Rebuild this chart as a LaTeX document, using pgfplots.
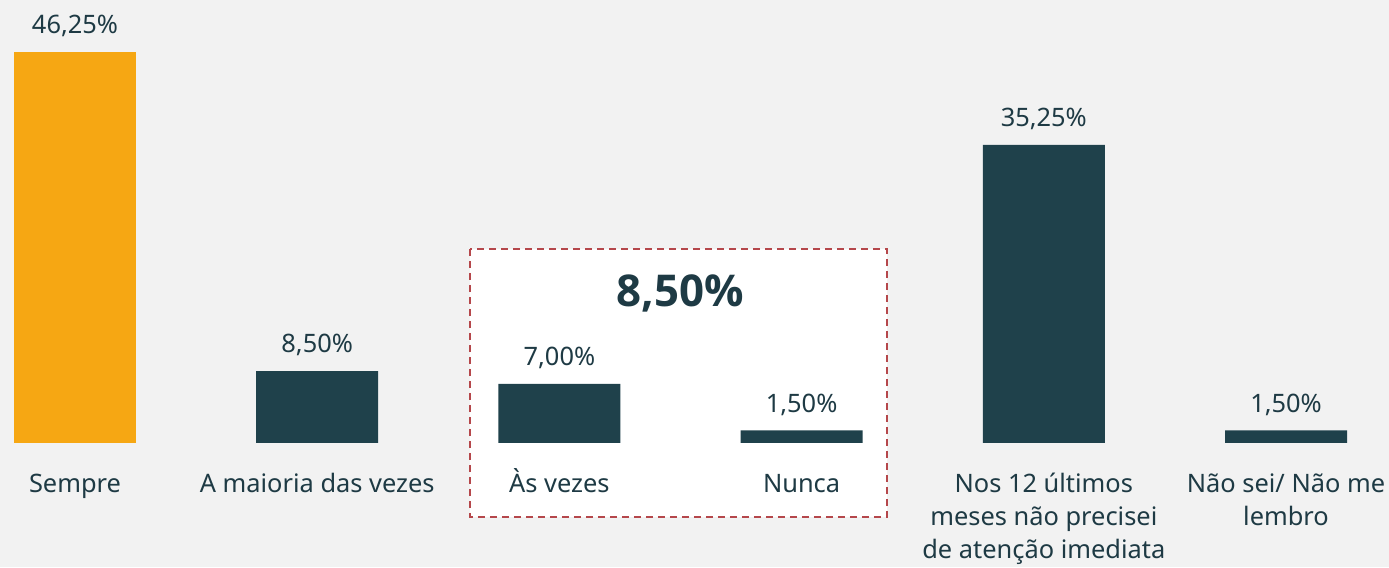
\documentclass[border=0pt]{standalone}
\usepackage{pgfplots}
\pgfplotsset{compat=1.18}
\usepackage{fontspec}
\setmainfont{Noto Sans}
\newfontfamily\bigfont{Open Sans}
\definecolor{bg}{HTML}{F2F2F2}
\definecolor{org}{HTML}{F6A713}
\definecolor{barteal}{HTML}{1F414B}
\definecolor{txt}{HTML}{1E3A44}
\definecolor{dashred}{HTML}{B5474B}
\newcommand{\lbl}[1]{\begin{tabular}[t]{@{}c@{}}#1\end{tabular}}
\begin{document}
\begin{tikzpicture}
\begin{axis}[
  set layers,
  scale only axis, width=1389bp, height=567bp,
  xmin=-0.3097, xmax=5.4253, ymin=-14.668, ymax=52.40,
  axis background/.style={fill=bg},
  axis line style={draw=none},
  ytick=\empty, xtick={0,1,2,3,4,5}, major tick length=0pt,
  xticklabels={\lbl{Sempre}, \lbl{A maioria das vezes}, \lbl{Às vezes}, \lbl{Nunca}, \lbl{Nos 12 últimos\\meses não precisei\\de atenção imediata}, \lbl{Não sei/ Não me\\lembro}},
  xticklabel style={font=\fontsize{25.5}{33}\selectfont, text=txt, anchor=base, inner sep=0pt, yshift=74.7bp},
  /pgf/number format/assume math mode=true,
  ybar, bar width=122bp,
  nodes near coords={\pgfmathprintnumber[fixed,fixed zerofill,precision=2,use comma]{\pgfplotspointmeta}\%},
  nodes near coords style={font=\fontsize{25.5}{30}\selectfont, text=txt, anchor=base, inner sep=0pt, yshift=18.3bp},
  clip=false,
]
\begin{pgfonlayer}{axis grid}
\draw[dashred, line width=1.5bp, dash pattern=on 7bp off 5bp, fill=white]
  (axis cs:1.6309,22.95) rectangle (axis cs:3.3526,-8.753);
\end{pgfonlayer}
\addplot[fill=org, draw=none, bar shift=0pt] coordinates {(0,46.25)};
\addplot[fill=barteal, draw=none, bar shift=0pt] coordinates {(1,8.5) (2,7.0) (3,1.5) (4,35.25) (5,1.5)};
\node[font=\bigfont\bfseries\fontsize{44}{54}\selectfont, text=txt, anchor=base] at (axis cs:2.5,16.2) {8,50\%};
\end{axis}
\pgfresetboundingbox
\useasboundingbox (current axis.south west) rectangle (current axis.north east);
\end{tikzpicture}
\end{document}
